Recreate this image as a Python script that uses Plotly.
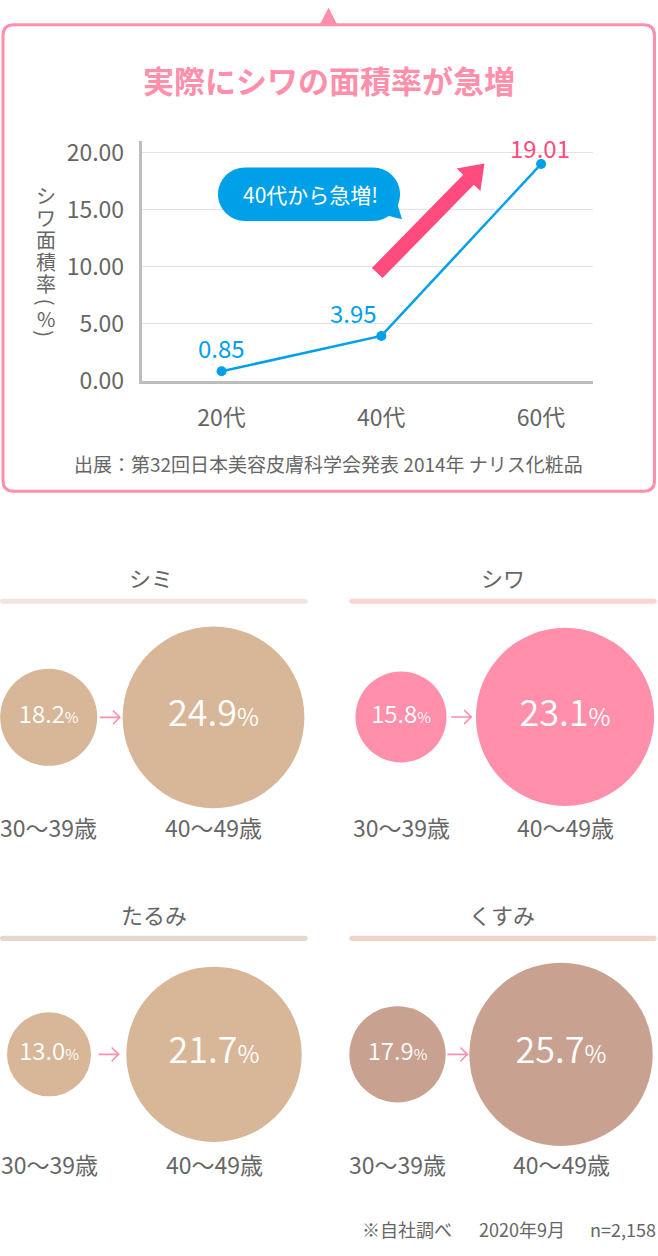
import plotly.graph_objects as go

W, H = 658, 1256

# ---------------- data ----------------
line_categories = ["20代", "40代", "60代"]
wrinkle_area_rate = [0.85, 3.95, 19.01]
y_tick_values = [0, 5, 10, 15, 20]

concern_names = ["シミ", "シワ", "たるみ", "くすみ"]
age_groups = ["30〜39歳", "40〜49歳"]
rate_age30s = [18.2, 15.8, 13.0, 17.9]
rate_age40s = [24.9, 23.1, 21.7, 25.7]

title_text = "実際にシワの面積率が急増"
callout_text = "40代から急増!"
source_text = "出展：第32回日本美容皮膚科学会発表 2014年 ナリス化粧品"
footer_parts = ["※自社調べ", "2020年9月", "n=2,158"]
axis_title_chars = ["シ", "ワ", "面", "積", "率", "(", "%", ")"]

# ---------------- styles ----------------
FONT = "Noto Sans CJK JP"
GRAY = "#666666"
PINK = "#ff8fab"
BLUE = "#00a0e9"
HOT = "#ff4b7d"


def X(px):
    return px / W


def Y(py):
    return 1 - py / H


def path(cmds, close=True):
    out = []
    for c, pts in cmds:
        out.append(c + " ".join(f"{X(a):.5f},{Y(b):.5f}" for a, b in pts))
    s = " ".join(out)
    return s + (" Z" if close else "")


def pill(x0, x1, yc, r):
    k = 0.5523 * r
    return path([
        ("M", [(x0 + r, yc - r)]),
        ("L", [(x1 - r, yc - r)]),
        ("C", [(x1 - r + k, yc - r), (x1, yc - k), (x1, yc)]),
        ("C", [(x1, yc + k), (x1 - r + k, yc + r), (x1 - r, yc + r)]),
        ("L", [(x0 + r, yc + r)]),
        ("C", [(x0 + r - k, yc + r), (x0, yc + k), (x0, yc)]),
        ("C", [(x0, yc - k), (x0 + r - k, yc - r), (x0 + r, yc - r)]),
    ])


def rrect(x0, y0, x1, y1, r):
    return path([
        ("M", [(x0 + r, y0)]), ("L", [(x1 - r, y0)]), ("Q", [(x1, y0), (x1, y0 + r)]),
        ("L", [(x1, y1 - r)]), ("Q", [(x1, y1), (x1 - r, y1)]),
        ("L", [(x0 + r, y1)]), ("Q", [(x0, y1), (x0, y1 - r)]),
        ("L", [(x0, y0 + r)]), ("Q", [(x0, y0), (x0 + r, y0)]),
    ])


def pshape(p, **kw):
    d = dict(type="path", path=p, xref="paper", yref="paper")
    d.update(kw)
    return d


def ptext(px, py, text, size, color=GRAY, xanchor="center", **kw):
    d = dict(x=X(px), y=Y(py), xref="paper", yref="paper", showarrow=False, text=text,
             font=dict(family=FONT, size=size, color=color), xanchor=xanchor, yanchor="middle")
    d.update(kw)
    return d


panel_layout = [
    dict(c0=48.7, c1=213.5, cy=723, hx=151, hy=580, bx0=0, bx1=307.7, by=604.8,
         color="#d8b799", bar="#f0e6dd"),
    dict(c0=401, c1=565, cy=722.6, hx=502.5, hy=580, bx0=349.3, bx1=656.7, by=604.8,
         color="#ff8fab", bar="#ffd2d2"),
    dict(c0=49, c1=214, cy=1066, hx=154, hy=923, bx0=0, bx1=307.7, by=948,
         color="#d8b799", bar="#e2d8cd"),
    dict(c0=397.5, c1=561, cy=1066, hx=501.7, hy=923, bx0=349.3, bx1=656.7, by=948,
         color="#c8a191", bar="#f0d4ca"),
]


def small_diam(v):
    return 84 + (v - 13) * 2.5


def big_diam(v):
    return 132 + 2 * v


fig = go.Figure()
shapes = []
annotations = []

# ---------------- top box ----------------
shapes.append(pshape(rrect(3, 18, 654.5, 493, 11),
                     line=dict(color=PINK, width=3), fillcolor="rgba(0,0,0,0)", layer="below"))
shapes.append(pshape(path([("M", [(319.5, 18.5)]), ("L", [(328.5, 0.5)]), ("L", [(337.5, 18.5)])]),
                     line=dict(width=0), fillcolor=PINK, layer="below"))

annotations.append(ptext(329, 74, f"<b>{title_text}</b>", 31, PINK))

# ---------------- line chart ----------------
fig.add_trace(go.Scatter(
    x=list(range(len(line_categories))), y=wrinkle_area_rate,
    mode="lines+markers", line=dict(color=BLUE, width=2.5),
    marker=dict(size=10, color=BLUE), cliponaxis=False, hoverinfo="skip",
    xaxis="x", yaxis="y", showlegend=False))

label_offsets = [(0, 24, BLUE), (-28, 23, BLUE), (-1, 17, HOT)]
for i, v in enumerate(wrinkle_area_rate):
    dx, dy, col = label_offsets[i]
    annotations.append(dict(x=i, y=v, xref="x", yref="y", showarrow=False,
                            text=f"{v:.2f}", xshift=dx, yshift=dy,
                            font=dict(family=FONT, size=24, color=col),
                            xanchor="center", yanchor="middle"))

# vertical (tate-gaki) axis title, one upright character per line
axis_title_y = [191.7, 214, 237, 259.5, 281.7, 300, 317.5, 332]
for ch, yy in zip(axis_title_chars, axis_title_y):
    annotations.append(ptext(46, yy, ch, 20, GRAY, textangle=90 if ch in "()" else 0,
                             height=21 if ch not in "()" else None))

# callout
shapes.append(pshape(pill(218, 400, 190.5, 27.2), line=dict(width=0), fillcolor=BLUE))
shapes.append(pshape(path([("M", [(386, 212)]), ("L", [(402, 216)]), ("L", [(397, 199)])]),
                     line=dict(width=0), fillcolor=BLUE))
annotations.append(ptext(310, 190, callout_text, 21, "white"))

# big pink arrow
sx, sy = 377.2, 270.8
bx, by = 468.5, 175.8
dxv, dyv = bx - sx, by - sy
L = (dxv ** 2 + dyv ** 2) ** 0.5
ux, uy = dxv / L, dyv / L
nx, ny = -uy, ux
hw, hh, hl = 7.4, 16.5, 23
arrow_pts = [
    (sx - hw * nx, sy - hw * ny),
    (bx - hw * nx, by - hw * ny),
    (bx - hh * nx, by - hh * ny),
    (bx + hl * ux, by + hl * uy),
    (bx + hh * nx, by + hh * ny),
    (bx + hw * nx, by + hw * ny),
    (sx + hw * nx, sy + hw * ny),
]
shapes.append(pshape(path([("M", [arrow_pts[0]])] + [("L", [p]) for p in arrow_pts[1:]]),
                     line=dict(width=0), fillcolor=HOT))

annotations.append(ptext(328, 465, source_text, 19, GRAY))

# ---------------- bubble panels ----------------
layout_axes = {}
for i, name in enumerate(concern_names):
    p = panel_layout[i]
    k = i + 2
    span = p["c1"] - p["c0"]
    v0, v1 = rate_age30s[i], rate_age40s[i]
    fig.add_trace(go.Scatter(
        x=[0, 1], y=[0, 0], mode="markers+text",
        marker=dict(size=[small_diam(v0), big_diam(v1)], color=p["color"], line=dict(width=0), opacity=1),
        text=[f"{v0:.1f}<span style='font-size:15px'>%</span>",
              f"{v1:.1f}<span style='font-size:24px'>%</span>"],
        textposition="middle center",
        textfont=dict(family=FONT, size=[24, 36], color="white", weight=350),
        cliponaxis=False, hoverinfo="skip", showlegend=False,
        xaxis=f"x{k}", yaxis=f"y{k}"))
    layout_axes[f"xaxis{k}"] = dict(domain=[X(p["c0"] - 40), X(p["c1"] + 40)],
                                    range=[-40 / span, 1 + 40 / span], visible=False,
                                    anchor=f"y{k}", fixedrange=True)
    layout_axes[f"yaxis{k}"] = dict(domain=[Y(p["cy"] + 100), Y(p["cy"] - 100)],
                                    range=[-100, 100], visible=False,
                                    anchor=f"x{k}", fixedrange=True)
    # header + bar
    annotations.append(ptext(p["hx"], p["hy"], name, 22, GRAY))
    shapes.append(pshape(pill(p["bx0"], p["bx1"], p["by"], 2.6),
                         line=dict(width=0), fillcolor=p["bar"]))
    # age labels under each bubble
    for j, ag in enumerate(age_groups):
        cx = p["c0"] if j == 0 else p["c1"]
        annotations.append(ptext(cx, p["cy"] + 112, ag, 23, GRAY))
    # small arrow between bubbles
    left = p["c0"] + small_diam(v0) / 2
    right = p["c1"] - big_diam(v1) / 2
    mid = (left + right) / 2
    a0, a1, cy = mid - 10, mid + 10, p["cy"]
    shapes.append(pshape(path([("M", [(a0, cy)]), ("L", [(a1, cy)]),
                               ("M", [(a1 - 7, cy - 7)]), ("L", [(a1, cy)]), ("L", [(a1 - 7, cy + 7)])],
                              close=False),
                         line=dict(color=PINK, width=1.6)))

annotations.append(ptext(360, 1243.5, footer_parts[0], 18, GRAY, xanchor="left"))
annotations.append(ptext(476.5, 1243.5, footer_parts[1], 18, GRAY, xanchor="left"))
annotations.append(ptext(657.5, 1243.5, footer_parts[2], 18, GRAY, xanchor="right"))

fig.update_layout(
    width=W, height=H, margin=dict(l=0, r=0, t=0, b=0),
    paper_bgcolor="white", plot_bgcolor="rgba(0,0,0,0)",
    showlegend=False,
    font=dict(family=FONT, color=GRAY),
    xaxis=dict(domain=[X(141.7), X(592.7)], range=[-0.5, 2.323],
               tickvals=list(range(len(line_categories))), ticktext=line_categories,
               showline=True, linecolor="#bdbdbd", linewidth=3, showgrid=False, zeroline=False,
               ticks="", ticklabelstandoff=14, tickfont=dict(family=FONT, size=23, color=GRAY),
               anchor="y", fixedrange=True),
    yaxis=dict(domain=[Y(380.7), Y(136)], range=[0, 21.06],
               tickvals=y_tick_values, tickformat=".2f",
               showline=True, linecolor="#bdbdbd", linewidth=3, showgrid=True,
               gridcolor="#e3e3e3", gridwidth=1, zeroline=False,
               ticks="", ticklabelstandoff=10, tickfont=dict(family=FONT, size=23, color=GRAY),
               anchor="x", fixedrange=True),
    shapes=shapes, annotations=annotations,
    **layout_axes,
)

fig.write_html("out.html", config={"displayModeBar": False},
               post_script="document.body.style.margin='0';")
